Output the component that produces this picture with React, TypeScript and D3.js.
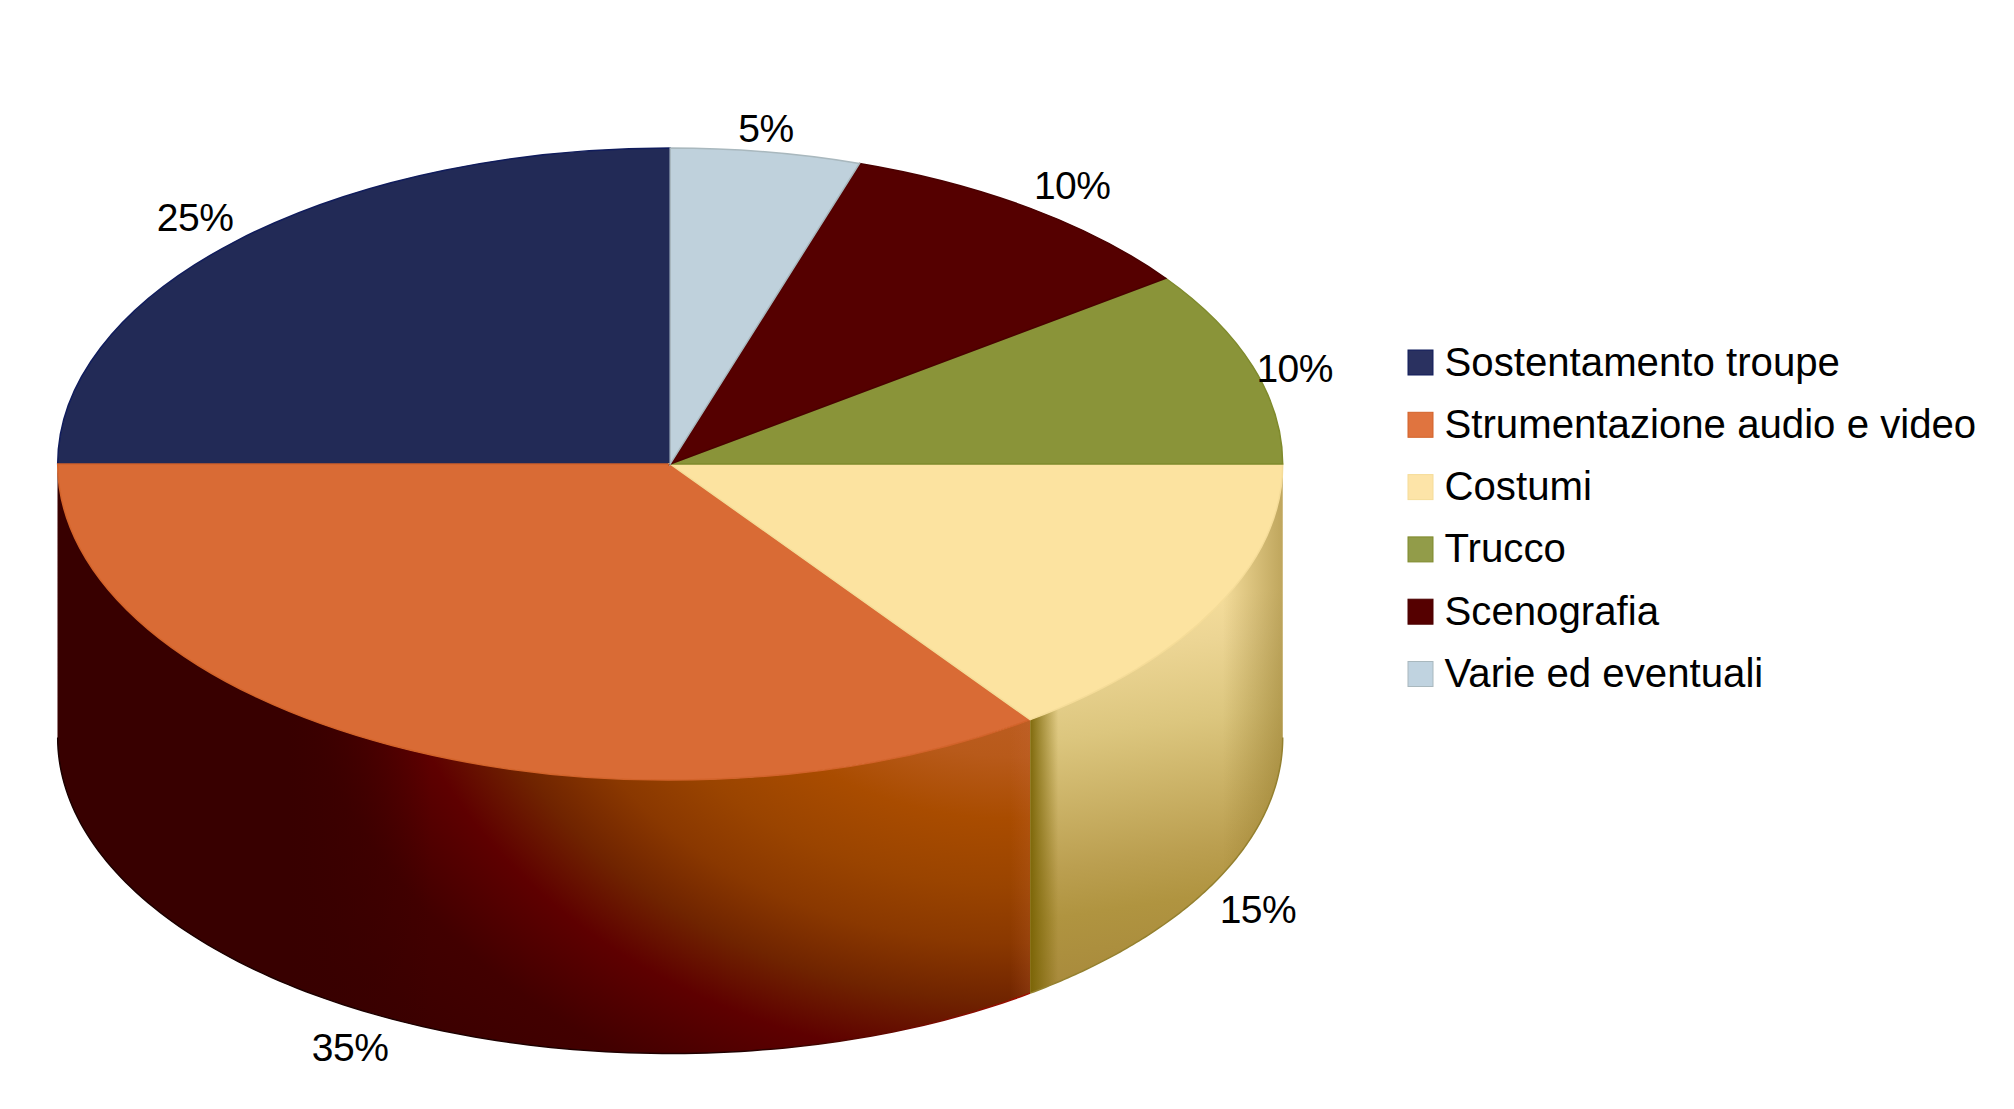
import * as d3 from "d3";

const categories = [
  "Sostentamento troupe",
  "Strumentazione audio e video",
  "Costumi",
  "Trucco",
  "Scenografia",
  "Varie ed eventuali",
];
const shares = [25, 35, 15, 10, 10, 5];
const topColors = ["#222a56", "#d96b35", "#fce3a0", "#8a9439", "#550000", "#bfd1dc"];
const edgeColors = ["#101c5c", "#d2632a", "#f5dc98", "#7f8a2c", "#4a0000", "#a9b8be"];
const legendColors = ["#2a3160", "#e0743f", "#fde4a8", "#929c49", "#550000", "#c0d3e0"];

const WIDTH = 2014;
const HEIGHT = 1109;
const cx = 670.2;
const cy = 464;
const rx = 612.5;
const ry = 316;
const depth = 273.5;

// pie runs counter clockwise from 12 o'clock
const slices = d3
  .pie<number>()
  .sort(null)
  .startAngle(0)
  .endAngle(-2 * Math.PI)(shares);

const arc = d3.arc<d3.PieArcDatum<number>>().innerRadius(0).outerRadius(rx);

const wall = d3
  .area<number>()
  .x((a) => cx + rx * Math.sin(a))
  .y0((a) => cy - ry * Math.cos(a))
  .y1((a) => cy - ry * Math.cos(a) + depth);

const rim = d3
  .line<number>()
  .x((a) => cx + rx * Math.sin(a))
  .y((a) => cy - ry * Math.cos(a) + depth);

const FRONT_FROM = -1.5 * Math.PI;
const FRONT_TO = -0.5 * Math.PI;

function frontAngles(start: number, end: number) {
  const from = Math.max(end, FRONT_FROM);
  const to = Math.min(start, FRONT_TO);
  return d3.range(0, 121).map((i) => from + ((to - from) * i) / 120);
}

function labelPos(d: d3.PieArcDatum<number>) {
  const mid = (d.startAngle + d.endAngle) / 2;
  const s = Math.sin(mid);
  const c = Math.cos(mid);
  const dx = Math.abs(s) < 0.2 ? 0 : 42 * Math.sign(s);
  const dy = c > 0.5 ? -20 : c < 0 ? 32 : 5;
  const x = cx + rx * s + dx;
  const y = cy - ry * c + (c < 0 ? depth : 0) + dy;
  return [x, y];
}

const legendX = 1408;
const legendY = 350;
const legendStep = 62.3;

export default function App() {
  const orangeAngles = frontAngles(slices[1].startAngle, slices[1].endAngle);
  const creamAngles = frontAngles(slices[2].startAngle, slices[2].endAngle);
  const orangeWall = wall(orangeAngles) ?? "";
  const creamWall = wall(creamAngles) ?? "";
  const seam = cx + rx * Math.sin(slices[1].endAngle);
  const rightEdge = cx + rx;

  return (
    <svg
      width={WIDTH}
      height={HEIGHT}
      viewBox={`0 0 ${WIDTH} ${HEIGHT}`}
      style={{ position: "absolute", left: 0, top: 0, background: "#fff" }}
      fontFamily="'Liberation Sans', Arial, sans-serif"
    >
      <defs>
        {/* elliptical sheen, the centre sits behind the seam */}
        <radialGradient
          id="orangeWall"
          gradientUnits="userSpaceOnUse"
          cx={0}
          cy={0}
          r={1.45}
          gradientTransform="translate(1014,543) scale(640,520)"
        >
          <stop offset="0.124" stop-color="#c4622c" />
          <stop offset="0.283" stop-color="#b85a1a" />
          <stop offset="0.366" stop-color="#a94c00" />
          <stop offset="0.455" stop-color="#9a4400" />
          <stop offset="0.531" stop-color="#8a3800" />
          <stop offset="0.607" stop-color="#702400" />
          <stop offset="0.69" stop-color="#5e0000" />
          <stop offset="0.8" stop-color="#420000" />
          <stop offset="0.9" stop-color="#3c0000" />
          <stop offset="1" stop-color="#380000" />
        </radialGradient>
        <linearGradient id="orangeShade" gradientUnits="userSpaceOnUse" x1={288} y1={0} x2={430} y2={0}>
          <stop offset="0" stop-color="#380000" stop-opacity="1" />
          <stop offset="1" stop-color="#380000" stop-opacity="0" />
        </linearGradient>
        <linearGradient id="orangeEdge" gradientUnits="userSpaceOnUse" x1={seam - 20} y1={0} x2={seam} y2={0}>
          <stop offset="0" stop-color="#c8683a" stop-opacity="0" />
          <stop offset="1" stop-color="#c8683a" stop-opacity="0.22" />
        </linearGradient>
        <linearGradient id="orangeRim" gradientUnits="userSpaceOnUse" x1={60} y1={0} x2={seam} y2={0}>
          <stop offset="0" stop-color="#1a0000" />
          <stop offset="0.7" stop-color="#200000" />
          <stop offset="1" stop-color="#a01000" />
        </linearGradient>
        <linearGradient id="creamWall" gradientUnits="userSpaceOnUse" x1={1100} y1={615} x2={1154} y2={977}>
          <stop offset="0" stop-color="#f4dc9a" />
          <stop offset="0.11" stop-color="#ecd594" />
          <stop offset="0.32" stop-color="#dcc67e" />
          <stop offset="0.67" stop-color="#bb9f50" />
          <stop offset="0.8" stop-color="#b09440" />
          <stop offset="1" stop-color="#a88a3c" />
        </linearGradient>
        <linearGradient id="creamEdge" gradientUnits="userSpaceOnUse" x1={seam} y1={0} x2={seam + 28} y2={0}>
          <stop offset="0" stop-color="#766000" stop-opacity="0.9" />
          <stop offset="1" stop-color="#766000" stop-opacity="0" />
        </linearGradient>
        <linearGradient id="creamRight" gradientUnits="userSpaceOnUse" x1={rightEdge - 60} y1={0} x2={rightEdge} y2={0}>
          <stop offset="0" stop-color="#8a7020" stop-opacity="0" />
          <stop offset="1" stop-color="#8a7020" stop-opacity="0.5" />
        </linearGradient>
      </defs>

      <path d={orangeWall} fill="url(#orangeWall)" />
      <path d={orangeWall} fill="url(#orangeShade)" />
      <path d={orangeWall} fill="url(#orangeEdge)" />
      <path d={creamWall} fill="url(#creamWall)" />
      <path d={creamWall} fill="url(#creamRight)" />
      <path d={creamWall} fill="url(#creamEdge)" />
      <path d={rim(orangeAngles) ?? ""} fill="none" stroke="url(#orangeRim)" strokeWidth={1.5} />
      <path d={rim(creamAngles) ?? ""} fill="none" stroke="#94802f" strokeWidth={1.5} />

      <g transform={`translate(${cx},${cy}) scale(1,${ry / rx})`}>
        {slices.map((d, i) => (
          <path
            key={categories[i]}
            d={arc(d) ?? ""}
            fill={topColors[i]}
            stroke={edgeColors[i]}
            strokeWidth={1.5}
            vectorEffect="non-scaling-stroke"
          />
        ))}
      </g>

      {slices.map((d, i) => {
        const [x, y] = labelPos(d);
        return (
          <text key={i} x={x} y={y} fontSize={39} textAnchor="middle" dominantBaseline="middle" letterSpacing={-0.5}>
            {shares[i]}%
          </text>
        );
      })}

      {categories.map((name, i) => (
        <g key={name} transform={`translate(${legendX},${legendY + i * legendStep})`}>
          <rect width={25} height={25} fill={legendColors[i]} stroke={edgeColors[i]} strokeWidth={1} />
          <text x={36.5} y={25.5} fontSize={40.2} fill="#000">
            {name}
          </text>
        </g>
      ))}
    </svg>
  );
}
